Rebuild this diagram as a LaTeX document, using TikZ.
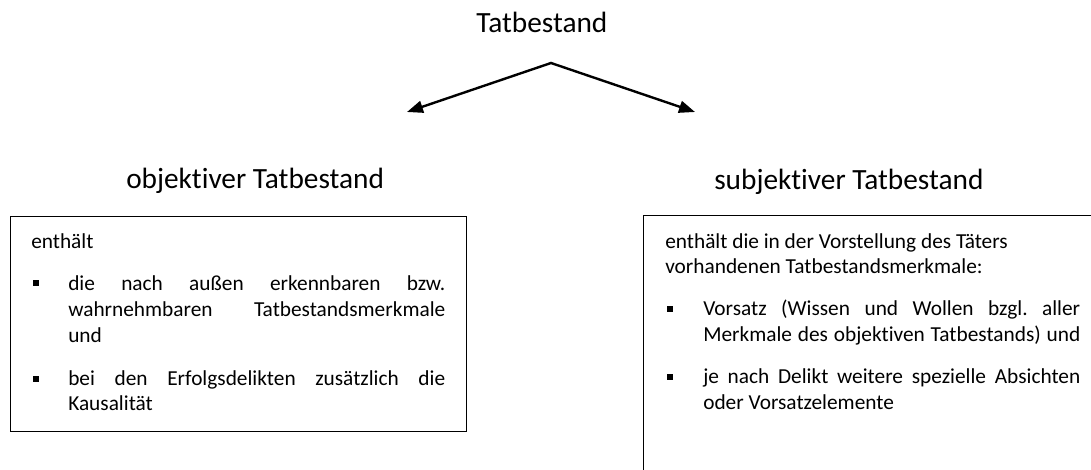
\documentclass[tikz,border=0pt]{standalone}
\usepackage{fontspec}
\setmainfont{Carlito}[Ligatures={NoCommon,NoContextual}]
\usetikzlibrary{arrows.meta}
\newlength\pxu
\setlength\pxu{0.75pt}
\newcommand\justline[1]{\makebox[377\pxu][s]{#1}}
\frenchspacing
\tikzset{
  bodytxt/.style={anchor=base west, inner sep=0pt, font=\fontsize{16pt}{19.5pt}\selectfont},
  titletxt/.style={anchor=base west, inner sep=0pt, font=\fontsize{22pt}{26pt}\selectfont},
  framebox/.style={draw=black, line width=1.1pt, inner sep=0pt, anchor=north west},
  bulletsq/.style={fill=black, inner sep=0pt, minimum size=6\pxu},
  branch/.style={line width=1.8pt, line join=miter,
    {Triangle[length=12pt,width=9pt]}-{Triangle[length=12pt,width=9pt]}}
}
\begin{document}
\begin{tikzpicture}[x=0.75pt,y=-0.75pt]
\useasboundingbox (0,0) rectangle (1091,470);
\clip (0,0) rectangle (1091,470);
% title
\node[titletxt] (top) at (476,33) {Tatbestand};
\coordinate (apex) at (551,63);
\coordinate (lt) at (407,112);
\coordinate (rt) at (695,112);
\draw[branch] (lt) -- (apex) -- (rt);
% sub-titles
\node[titletxt] (objt) at (126,189) {objektiver Tatbestand};
\node[titletxt] (subjt) at (714,190) {subjektiver Tatbestand};
% boxes
\node[framebox, minimum width=456\pxu, minimum height=215\pxu] (objbox) at (10,216) {};
\node[framebox, minimum width=456\pxu, minimum height=300\pxu] (subjbox) at (643,215) {};
% left box text
\node[bodytxt] (o0) at (31,248) {enthält};
\node[bulletsq] (ob1) at (36,283) {};
\node[bodytxt] (o1) at (68,290) {\justline{die nach außen erkennbaren bzw.}};
\node[bodytxt] (o2) at (68,316) {\justline{wahrnehmbaren Tatbestandsmerkmale}};
\node[bodytxt] (o3) at (68,342) {und};
\node[bulletsq] (ob2) at (36,379) {};
\node[bodytxt] (o4) at (68,385) {\justline{bei den Erfolgsdelikten zusätzlich die}};
\node[bodytxt] (o5) at (68,410) {Kausalität};
% right box text
\node[bodytxt] (s0) at (665,248) {enthält die in der Vorstellung des Täters};
\node[bodytxt] (s1) at (665,273) {vorhandenen Tatbestandsmerkmale:};
\node[bulletsq] (sb1) at (670,309) {};
\node[bodytxt] (s2) at (703,315) {\justline{Vorsatz (Wissen und Wollen bzgl. aller}};
\node[bodytxt] (s3) at (703,341) {\justline{Merkmale des objektiven Tatbestands) und}};
\node[bulletsq] (sb2) at (670,377) {};
\node[bodytxt] (s4) at (703,383) {\justline{je nach Delikt weitere spezielle Absichten}};
\node[bodytxt] (s5) at (703,409) {oder Vorsatzelemente};
\end{tikzpicture}
\end{document}
